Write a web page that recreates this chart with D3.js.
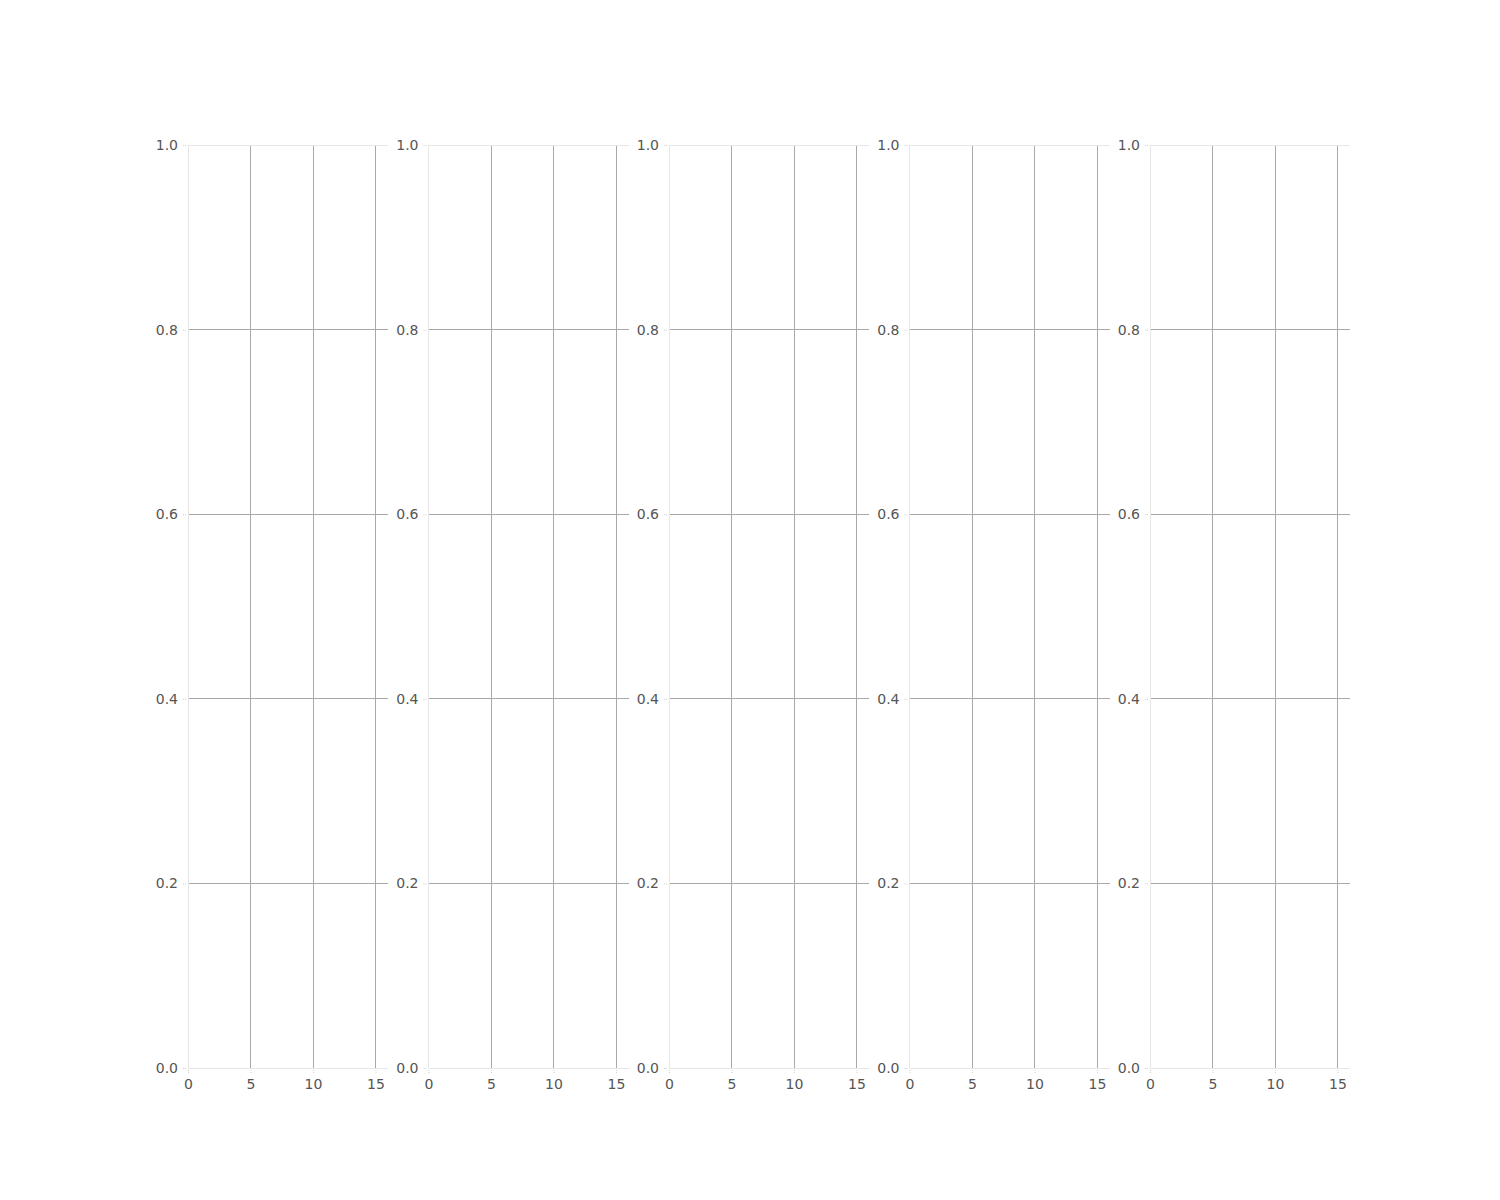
<!DOCTYPE html>
<html><head><meta charset="utf-8">
<script src="https://cdn.jsdelivr.net/npm/d3@7"></script>
<style>body{margin:0;background:#fff}svg{display:block}text{font-family:"DejaVu Sans",sans-serif}</style>
</head><body><svg id="c" width="1500" height="1200"></svg>
<script>
const panels = [0, 1, 2, 3, 4];
const xTicks = [0, 5, 10, 15];
const yTicks = [0, 0.2, 0.4, 0.6, 0.8, 1.0];
const xDomain = [0, 16];
const yDomain = [0, 1];

(function () {
const svg = d3.select("#c");
const panelW = 200, step = 240.5, left0 = 188, plotTop = 145, plotBottom = 1068;
const y = d3.scaleLinear().domain(yDomain).range([plotBottom, plotTop]);

panels.forEach(i => {
  const x0 = left0 + i * step;
  const x = d3.scaleLinear().domain(xDomain).range([x0, x0 + panelW]);
  const g = svg.append("g");
  g.selectAll(".hg").data(yTicks.filter(v => v > 0 && v < 1)).join("line")
    .attr("x1", x(xDomain[0])).attr("x2", x(xDomain[1]))
    .attr("y1", d => y(d)).attr("y2", d => y(d))
    .attr("stroke", "#a8a8a8").attr("stroke-width", 1).attr("shape-rendering", "crispEdges");
  g.selectAll(".vg").data(xTicks.filter(v => v > 0)).join("line")
    .attr("x1", d => x(d)).attr("x2", d => x(d))
    .attr("y1", y(0)).attr("y2", y(1))
    .attr("stroke", "#a8a8a8").attr("stroke-width", 1).attr("shape-rendering", "crispEdges");
  g.append("line").attr("x1", x(0)).attr("x2", x(xDomain[1])).attr("y1", y(1)).attr("y2", y(1))
    .attr("stroke", "#e6e6e6").attr("shape-rendering", "crispEdges");
  g.append("line").attr("x1", x(0)).attr("x2", x(xDomain[1])).attr("y1", y(0)).attr("y2", y(0))
    .attr("stroke", "#e6e6e6").attr("shape-rendering", "crispEdges");
  g.append("line").attr("x1", x(0)).attr("x2", x(0)).attr("y1", y(0)).attr("y2", y(1))
    .attr("stroke", "#e6e6e6").attr("shape-rendering", "crispEdges");

  const xa = d3.axisBottom(x).tickValues(xTicks).tickSize(4).tickPadding(5).tickFormat(d3.format("d"));
  const ya = d3.axisLeft(y).tickValues(yTicks).tickSize(4).tickPadding(4).tickFormat(d3.format(".1f"));
  const gx = g.append("g").attr("transform", `translate(0,${plotBottom + 2})`).call(xa);
  const gy = g.append("g").attr("transform", `translate(${x0 - 2},0)`).call(ya);
  [gx, gy].forEach(a => {
    a.select(".domain").remove();
    a.selectAll(".tick line").attr("stroke", "#cfcfcf").attr("stroke-dasharray", "1,1");
    a.selectAll(".tick text").attr("fill", "#555").style("font-size", "14px");
  });
});
})();
</script></body></html>
